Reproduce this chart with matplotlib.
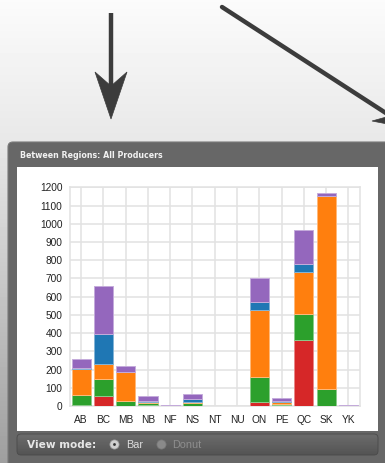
import numpy as np
import matplotlib.pyplot as plt
from matplotlib.patches import FancyBboxPatch, Rectangle, Polygon, Circle

# regions and the five stacked layers (bottom to top)
regions = ["AB", "BC", "MB", "NB", "NF", "NS", "NT", "NU", "ON", "PE", "QC", "SK", "YK"]
red_vals = [3, 55, 0, 8, 0, 2, 0, 0, 20, 4, 364, 0, 0]
green_vals = [57, 94, 29, 8, 0, 13, 0, 0, 140, 7, 142, 91, 0]
orange_vals = [143, 84, 160, 8, 0, 9, 0, 0, 369, 11, 230, 1062, 0]
blue_vals = [3, 163, 0, 4, 0, 14, 0, 0, 44, 7, 42, 0, 0]
purple_vals = [50, 260, 31, 25, 4, 27, 0, 0, 132, 13, 186, 13, 4]
y_ticks = list(range(0, 1201, 100))

layers = [
    (red_vals, "#d62728"),
    (green_vals, "#2ca02c"),
    (orange_vals, "#ff7f0e"),
    (blue_vals, "#1f77b4"),
    (purple_vals, "#9467bd"),
]

W, H = 385, 463
fig = plt.figure(figsize=(W / 100, H / 100), dpi=100)

# background layer in pixel coordinates
bg = fig.add_axes([0, 0, 1, 1])
bg.set_xlim(0, W)
bg.set_ylim(H, 0)
bg.axis("off")

grad = np.interp(np.arange(H), [0, 140, 463], [0.985, 0.91, 0.62])
bg.imshow(np.tile(grad[:, None], (1, 2)), cmap="gray", vmin=0, vmax=1,
          extent=[0, W, H, 0], aspect="auto", zorder=0)

# arrows
bg.plot([111, 111], [13, 92], color="#3c3c3c", lw=3.2, solid_capstyle="butt", zorder=1)
bg.add_patch(Polygon([(111, 119), (95, 72), (111, 86), (127, 72)], closed=True,
                     fc="#3c3c3c", ec="#3c3c3c", lw=0.5, zorder=1))
bg.plot([222, 392], [7, 117], color="#3c3c3c", lw=3.2, solid_capstyle="round", zorder=1)
bg.add_patch(Polygon([(408, 128), (372, 121), (390, 116), (396, 100)], closed=True,
                     fc="#3c3c3c", ec="#3c3c3c", lw=0.5, zorder=1))

# panel frame
bg.add_patch(FancyBboxPatch((8, 142), 400, 340, boxstyle="round,pad=0,rounding_size=5",
                            fc="#676767", ec="#7a7a7a", lw=0.8, zorder=2))
bg.text(20, 155, "Between Regions: All Producers", color="#f2f2f2", fontsize=5.7,
        fontweight="bold", va="center", ha="left", zorder=3)
bg.add_patch(Rectangle((17, 167), 361, 264, fc="white", ec="none", zorder=3))

# view mode bar
bar_box = FancyBboxPatch((17, 434), 361, 21, boxstyle="round,pad=0,rounding_size=4",
                         fc="none", ec="#4a4a4a", lw=0.6, zorder=4)
bg.add_patch(bar_box)
shade = np.interp(np.arange(21), [0, 20], [0.42, 0.33])
img = bg.imshow(np.tile(shade[:, None], (1, 2)), cmap="gray", vmin=0, vmax=1,
                extent=[17, 378, 455, 434], aspect="auto", zorder=3)
img.set_clip_path(bar_box)
bg.set_xlim(0, W)
bg.set_ylim(H, 0)
bg.text(27, 444.5, "View mode:", color="#e6e6e6", fontsize=7.6, fontweight="bold",
        va="center", ha="left", zorder=5)
bg.add_patch(Circle((114.5, 444.5), 4.6, fc="#cfcfcf", ec="#9a9a9a", lw=0.5, zorder=5))
bg.add_patch(Circle((114.5, 444.5), 1.4, fc="#333333", ec="none", zorder=6))
bg.text(126, 444.5, "Bar", color="#dcdcdc", fontsize=7.8, va="center", ha="left",
        family="Liberation Sans", zorder=5)
bg.add_patch(Circle((161.5, 444.5), 4.6, fc="#8a8a8a", ec="#777777", lw=0.5, zorder=5))
bg.text(172, 444.5, "Donut", color="#8e8e8e", fontsize=7.8, va="center", ha="left",
        family="Liberation Sans", zorder=5)

# chart
ax = fig.add_axes([70 / W, (H - 406) / H, (359.5 - 70) / W, (406 - 187.3) / H])
ax.set_facecolor("none")
x = np.arange(len(regions))
bottom = np.zeros(len(regions))
for vals, color in layers:
    v = np.array(vals, dtype=float)
    edge = tuple(0.55 * np.array(plt.matplotlib.colors.to_rgb(color)) + 0.45)
    ax.bar(x, v, width=0.86, bottom=bottom, color=color, edgecolor=edge,
           linewidth=0.7, zorder=3)
    bottom += v

ax.set_xlim(-0.5, len(regions) - 0.5)
ax.set_ylim(0, 1200)
ax.set_xticks(x)
ax.set_xticklabels(regions)
ax.set_yticks(y_ticks)
ax.grid(True, color="#e2e2e2", lw=1.1, zorder=0)
for s in ax.spines.values():
    s.set_color("#e2e2e2")
    s.set_linewidth(1.1)
ax.tick_params(length=0, labelsize=7.3, labelcolor="#222222")
ax.tick_params(axis="y", pad=5.5)
ax.tick_params(axis="x", pad=6.5)
for lab in ax.get_xticklabels() + ax.get_yticklabels():
    lab.set_family("Liberation Sans")

fig.savefig("out.png", dpi=100)
